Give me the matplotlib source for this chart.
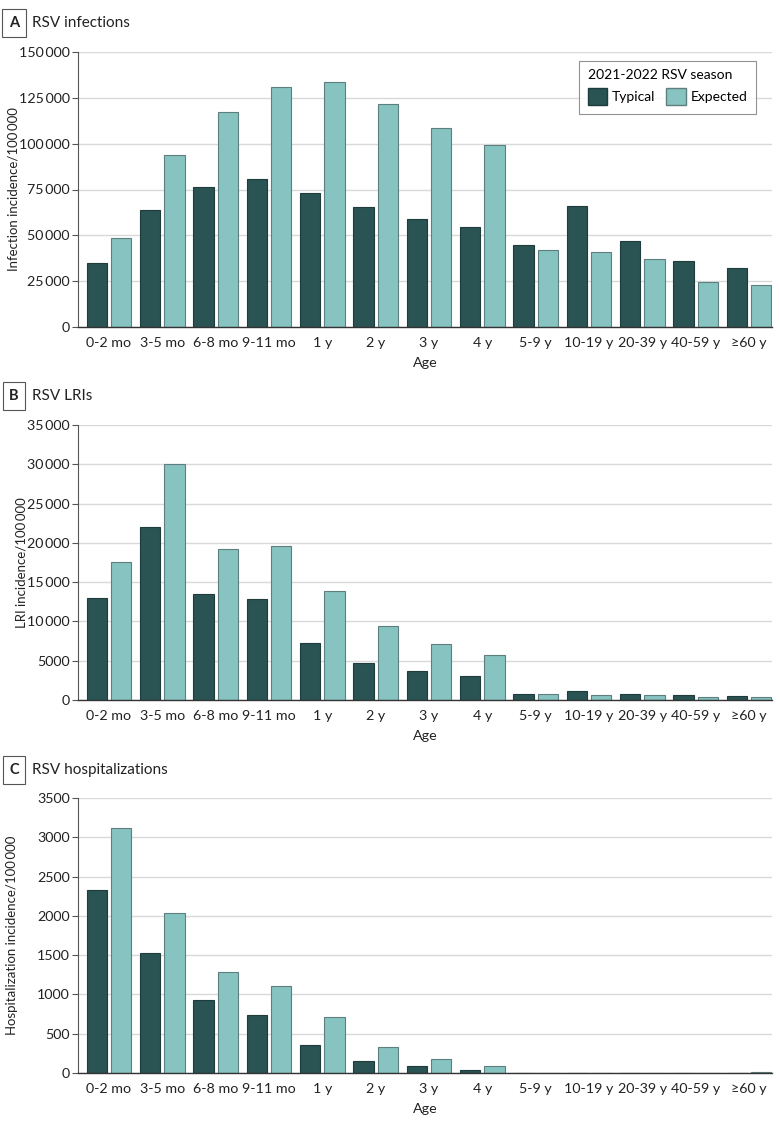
import matplotlib
matplotlib.use("Agg")
import matplotlib.pyplot as plt
import numpy as np
from matplotlib.ticker import FuncFormatter
from matplotlib.patches import Patch

plt.rcParams['font.family'] = ['Lato', 'DejaVu Sans']

ages = ["0-2 mo", "3-5 mo", "6-8 mo", "9-11 mo", "1 y", "2 y", "3 y", "4 y",
        "5-9 y", "10-19 y", "20-39 y", "40-59 y", "\u226560 y"]

inf_typical = [35000, 63800, 76400, 80700, 73100, 65300, 58900, 54500, 44700, 66000, 46700, 35800, 32200]
inf_expected = [48700, 93600, 117300, 130700, 133600, 121500, 108500, 99300, 42000, 40900, 37100, 24500, 22900]

lri_typical = [13000, 22000, 13500, 12860, 7200, 4670, 3650, 3100, 800, 1150, 800, 640, 560]
lri_expected = [17560, 30040, 19200, 19600, 13900, 9380, 7130, 5730, 760, 680, 640, 380, 380]

hosp_typical = [2333, 1523, 929, 738, 356, 148, 85, 42, 2, 1, 1, 2, 5]
hosp_expected = [3118, 2036, 1281, 1107, 708, 331, 178, 93, 2, 1, 1, 2, 12]

panels = [
    ("A", "RSV infections", "Infection incidence/100\u2009000", inf_typical, inf_expected,
     150000, 25000),
    ("B", "RSV LRIs", "LRI incidence/100\u2009000", lri_typical, lri_expected, 35000, 5000),
    ("C", "RSV hospitalizations", "Hospitalization incidence/100\u2009000", hosp_typical,
     hosp_expected, 3500, 500),
]

C_TYP = "#2a5353"
C_EXP = "#86c3c1"
E_TYP = "#1f3c3c"
E_EXP = "#5f7f7e"

W, H = 780, 1126
fig = plt.figure(figsize=(W / 100, H / 100), dpi=100)

# axes positions in pixels: (left, top, right, bottom)
boxes = [(78, 52, 772, 327), (78, 425, 772, 700), (78, 798, 772, 1073)]
label_y = [23, 396, 770]
ylabel_x = [19, 27, 18]

FS = 10


def fmt(v, pos):
    v = int(round(v))
    if v >= 10000:
        s = f"{v:,}".replace(",", "\u2009")
        return s
    return str(v)


x = np.arange(len(ages))
bw = 0.385
off = 0.228

for i, (letter, title, ylabel, typ, exp, ymax, step) in enumerate(panels):
    l, t, r, b = boxes[i]
    ax = fig.add_axes([l / W, 1 - b / H, (r - l) / W, (b - t) / H])
    ax.bar(x - off, typ, width=bw, color=C_TYP, edgecolor=E_TYP, linewidth=0.8, zorder=3)
    ax.bar(x + off, exp, width=bw, color=C_EXP, edgecolor=E_EXP, linewidth=0.8, zorder=3)
    ax.set_xlim(-0.58, 12.43)
    ax.set_ylim(0, ymax)
    ax.set_yticks(np.arange(0, ymax + 1, step))
    ax.yaxis.set_major_formatter(FuncFormatter(fmt))
    ax.set_xticks(x)
    ax.set_xticklabels(ages)
    ax.grid(axis="y", color="#d9d9d9", linewidth=1.0, zorder=0)
    ax.set_axisbelow(True)
    for s in ["top", "right"]:
        ax.spines[s].set_visible(False)
    ax.spines["left"].set_color("#555555")
    ax.spines["left"].set_linewidth(0.8)
    ax.spines["bottom"].set_color("#333333")
    ax.spines["bottom"].set_linewidth(1.0)
    ax.spines["bottom"].set_zorder(4)
    ax.tick_params(axis="y", length=4, width=0.8, color="#555555", labelsize=FS + 0.3,
                   labelcolor="#222222", pad=2)
    ax.tick_params(axis="x", length=0, labelsize=FS + 0.3, labelcolor="#222222", pad=7)
    ax.set_xlabel("Age", fontsize=FS + 0.3, color="#222222", labelpad=6)
    ax.set_ylabel(ylabel, fontsize=9.5, color="#222222")
    ax.yaxis.set_label_coords((ylabel_x[i] - l) / (r - l), 0.5)

    # panel label box
    fig.text(14 / W, 1 - label_y[i] / H, letter, fontsize=10.5, fontweight="bold",
             ha="center", va="center", color="#222222",
             bbox=dict(boxstyle="square,pad=0.45", facecolor="white", edgecolor="#555555",
                       linewidth=0.8))
    fig.text(32 / W, 1 - label_y[i] / H, title, fontsize=11, ha="left", va="center",
             color="#222222")

    if i == 0:
        handles = [Patch(facecolor=C_TYP, edgecolor=E_TYP, label="Typical"),
                   Patch(facecolor=C_EXP, edgecolor=E_EXP, label="Expected")]
        leg = ax.legend(handles=handles, title="2021-2022 RSV season", ncol=2,
                        loc="upper right",
                        bbox_to_anchor=((756 - l) / (r - l), 1 - (61 - t) / (b - t)),
                        borderaxespad=0,
                        fontsize=FS, title_fontsize=FS, frameon=True, fancybox=False,
                        edgecolor="#777777", handlelength=1.4, handleheight=1.5,
                        handletextpad=0.35, columnspacing=0.8, borderpad=0.6,
                        labelspacing=0.3, alignment="left")
        leg.get_frame().set_linewidth(0.8)
        leg._legend_box.sep = 5

fig.savefig("out.png", dpi=100, facecolor="white")
